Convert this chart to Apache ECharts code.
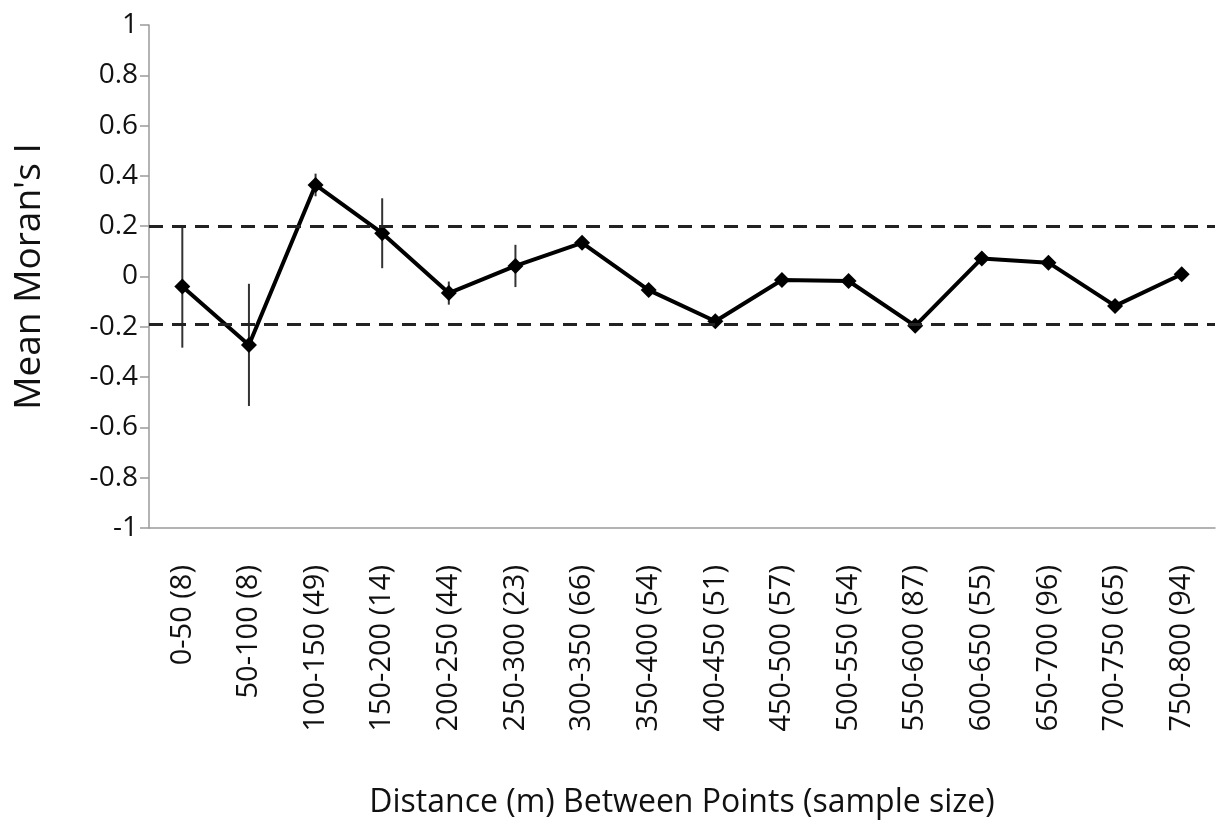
<!DOCTYPE html>
<html>
<head>
<meta charset="utf-8">
<script src="https://cdn.jsdelivr.net/npm/echarts@6/dist/echarts.min.js"></script>
<style>html,body{margin:0;padding:0;background:#fff;}#c{width:1225px;height:824px;}</style>
</head>
<body>
<div id="c"></div>
<script>
const categories = ['0-50 (8)','50-100 (8)','100-150 (49)','150-200 (14)','200-250 (44)','250-300 (23)','300-350 (66)','350-400 (54)','400-450 (51)','450-500 (57)','500-550 (54)','550-600 (87)','600-650 (55)','650-700 (96)','700-750 (65)','750-800 (94)'];
const moranI = [-0.04, -0.272, 0.364, 0.172, -0.066, 0.042, 0.134, -0.054, -0.178, -0.014, -0.018, -0.196, 0.072, 0.055, -0.117, 0.009];
const errors = [0.243, 0.243, 0.045, 0.139, 0.046, 0.084, 0.02, 0.02, 0.025, 0.02, 0.02, 0.02, 0.02, 0.02, 0.02, 0.02];
const thresholds = [0.2, -0.19];
const yTicks = [-1, 1, 0.2];

const font = '"Open Sans", "DejaVu Sans", sans-serif';
const chart = echarts.init(document.getElementById('c'), null, {renderer: 'canvas'});
const errData = categories.map((c, i) => [i, moranI[i] - errors[i], moranI[i] + errors[i]]);

chart.setOption({
  animation: false,
  backgroundColor: '#fff',
  grid: {left: 149, right: 10, top: 25, bottom: 296, containLabel: false},
  xAxis: {
    type: 'category',
    data: categories,
    boundaryGap: true,
    axisLine: {show: true, onZero: false, lineStyle: {color: '#9a9a9a', width: 1.5}},
    axisTick: {show: false},
    axisLabel: {rotate: 90, margin: 37, fontSize: 29, color: '#111', fontFamily: font, interval: 0},
    name: 'Distance (m) Between Points (sample size)',
    nameLocation: 'middle',
    nameGap: 259,
    nameTextStyle: {fontSize: 32, color: '#111', fontFamily: font}
  },
  yAxis: {
    type: 'value',
    min: yTicks[0], max: yTicks[1], interval: yTicks[2],
    axisLine: {show: true, lineStyle: {color: '#9a9a9a', width: 1.5}},
    axisTick: {show: true, inside: false, length: 9, lineStyle: {color: '#9a9a9a', width: 1.5}},
    splitLine: {show: false},
    axisLabel: {fontSize: 28, color: '#111', fontFamily: font, margin: 11,
      formatter: v => String(Math.round(v * 10) / 10)},
    name: "Mean Moran's I",
    nameLocation: 'middle',
    nameGap: 101,
    nameTextStyle: {fontSize: 37, color: '#111', fontFamily: font}
  },
  series: [
    {
      type: 'custom',
      data: errData,
      z: 1,
      renderItem: function (params, api) {
        const x = api.value(0);
        const lo = api.coord([x, api.value(1)]);
        const hi = api.coord([x, api.value(2)]);
        return {type: 'line', shape: {x1: lo[0], y1: lo[1], x2: hi[0], y2: hi[1]},
          style: {stroke: '#333', lineWidth: 2}};
      }
    },
    {
      type: 'line',
      data: moranI,
      z: 3,
      symbol: 'diamond',
      symbolSize: 16,
      itemStyle: {color: '#000'},
      lineStyle: {color: '#000', width: 4},
      markLine: {
        silent: true,
        symbol: ['none', 'none'],
        label: {show: false},
        lineStyle: {color: '#222', width: 3, type: [14, 9]},
        data: thresholds.map(t => ({yAxis: t}))
      }
    }
  ]
});
</script>
</body>
</html>
